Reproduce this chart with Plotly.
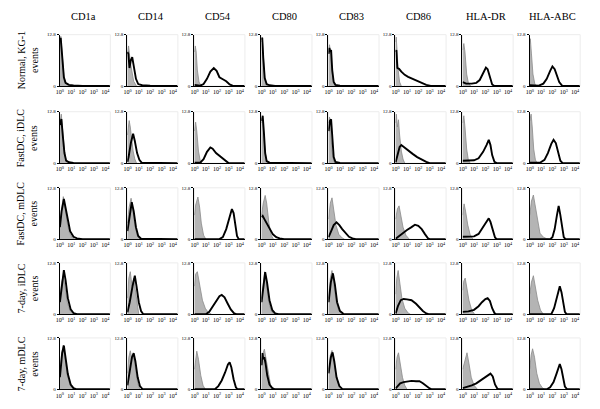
import plotly.graph_objects as go

# ---------------- data ----------------
markers = ["CD1a", "CD14", "CD54", "CD80", "CD83", "CD86", "HLA-DR", "HLA-ABC"]
conditions = ["Normal, KG-1", "FastDC, iDLC", "FastDC, mDLC", "7-day, iDLC", "7-day, mDLC"]
x_tick_vals = [0, 1, 2, 3, 4]
x_tick_text = ["10<sup>0</sup>", "10<sup>1</sup>", "10<sup>2</sup>", "10<sup>3</sup>", "10<sup>4</sup>"]
y_tick_vals = [0, 12.8]
y_tick_text = ["0", "12.8"]

# each curve: list of (log10 fluorescence, events) points; one curve per marker
grey_normal = [
    [(0,10.5),(0.08,12.4),(0.2,8),(0.35,2.5),(0.5,0.6),(0.7,0.1),(1.0,0)],
    [(0,8),(0.1,10),(0.25,6),(0.4,3.5),(0.55,1.2),(0.8,0)],
    [(0,8.5),(0.07,10),(0.15,8.5),(0.25,4),(0.4,1),(0.6,0)],
    [(0,11),(0.06,12.2),(0.15,8),(0.28,2),(0.4,0.3),(0.6,0)],
    [(0,9),(0.08,10.3),(0.18,8),(0.3,3.5),(0.45,0.8),(0.65,0)],
    [(0,11),(0.05,12.2),(0.12,9),(0.22,4),(0.35,1),(0.5,0)],
    [(0,9),(0.1,10.6),(0.2,8.5),(0.35,3),(0.5,0.8),(0.7,0)],
    [(0,10.5),(0.05,11.8),(0.15,8),(0.28,3),(0.45,0.5),(0.6,0)],
]
black_normal = [
    [(0,11),(0.07,12.0),(0.2,7.5),(0.35,2.2),(0.5,0.8),(0.8,0.3),(1.2,0.15),(2,0.05),(4.4,0)],
    [(0,8.5),(0.08,8),(0.18,4.5),(0.3,6.5),(0.42,7.2),(0.55,5),(0.75,1.8),(0.95,0.5),(1.3,0.2),(2.0,0.1),(4.4,0)],
    [(0,0.3),(0.5,0.1),(0.8,0.5),(1.1,1.8),(1.4,3.6),(1.7,4.5),(1.95,3.8),(2.2,2.2),(2.5,1.7),(2.8,1.2),(3.1,0.4),(3.4,0.05),(4.4,0)],
    [(0,11.5),(0.06,12.0),(0.15,7),(0.28,2),(0.45,0.5),(0.7,0.2),(1.2,0.05),(4.4,0)],
    [(0,8),(0.07,9.5),(0.15,8.5),(0.22,9),(0.32,4),(0.45,1),(0.6,0.3),(1.0,0.1),(4.4,0)],
    [(0,8.5),(0.06,9),(0.15,4.5),(0.3,4.3),(0.5,3.6),(0.8,2.8),(1.1,2.3),(1.5,1.8),(1.9,1.3),(2.3,0.8),(2.7,0.3),(3.1,0.05),(4.4,0)],
    [(0,1),(0.3,0.6),(0.8,0.6),(1.2,0.8),(1.5,1.5),(1.8,3),(2.05,4.6),(2.2,4.2),(2.4,2),(2.6,0.4),(2.8,0),(4.4,0)],
    [(0,0.2),(0.8,0.1),(1.2,0.6),(1.5,1.8),(1.8,3.8),(2.0,4.9),(2.2,4.2),(2.4,2.5),(2.6,1),(2.85,0.1),(4.4,0)],
]
grey_fast_i = [
    [(0,10),(0.12,12.2),(0.25,8),(0.4,3),(0.55,0.5),(0.7,0)],
    [(0,7),(0.15,10.6),(0.25,9),(0.35,6),(0.5,3),(0.65,1),(0.8,0)],
    [(0,8),(0.1,10.2),(0.2,8),(0.35,3),(0.5,0.7),(0.65,0)],
    [(0,10),(0.08,11.5),(0.18,8),(0.3,3),(0.45,0.5),(0.6,0)],
    [(0,10),(0.08,11.5),(0.18,8),(0.3,3),(0.45,0.5),(0.6,0)],
    [(0,10),(0.06,12.2),(0.15,9),(0.25,10.8),(0.35,7),(0.5,3),(0.65,1),(0.8,0)],
    [(0,10),(0.1,11.8),(0.2,9),(0.35,3.5),(0.5,0.8),(0.65,0)],
    [(0,10.5),(0.12,12.2),(0.22,9),(0.35,3.5),(0.5,0.8),(0.65,0)],
]
black_fast_i = [
    [(0,9.5),(0.13,11),(0.25,7),(0.4,2.5),(0.55,0.6),(0.8,0.2),(1.2,0.05),(4.4,0)],
    [(0,0.3),(0.1,1.5),(0.3,5),(0.5,7.3),(0.65,5.5),(0.85,2.5),(1.05,0.8),(1.25,0.1),(4.4,0)],
    [(0,0.1),(0.5,0.1),(0.8,1),(1.1,2.8),(1.4,3.9),(1.6,3.6),(1.9,2.5),(2.2,1.8),(2.5,1),(2.8,0.3),(3.0,0),(4.4,0)],
    [(0,10.5),(0.1,11.8),(0.2,8),(0.32,2.5),(0.45,0.5),(0.7,0.1),(4.4,0)],
    [(0,8),(0.12,10.5),(0.22,10.9),(0.32,6),(0.45,1.5),(0.6,0.3),(1,0.05),(4.4,0)],
    [(0,0.2),(0.15,2),(0.35,4),(0.5,4.5),(0.8,3.8),(1.1,3.1),(1.5,2.3),(1.9,1.5),(2.3,0.8),(2.7,0.3),(3.0,0),(4.4,0)],
    [(0,0.6),(0.5,0.6),(1.0,0.7),(1.4,1.2),(1.8,2.8),(2.1,4.5),(2.3,5.8),(2.45,4.5),(2.6,2),(2.8,0.3),(3.0,0),(4.4,0)],
    [(0,0.1),(0.9,0.1),(1.3,0.8),(1.6,2.5),(1.9,4.8),(2.1,5.8),(2.3,5),(2.5,2.5),(2.7,0.6),(2.9,0),(4.4,0)],
]
grey_fast_m = [
    [(0,4),(0.15,8),(0.3,10.6),(0.45,8),(0.65,4),(0.85,1.5),(1.1,0.3),(1.3,0)],
    [(0,4),(0.15,8),(0.32,10.2),(0.45,8),(0.65,3.5),(0.85,1),(1.1,0)],
    [(0,6),(0.1,8.5),(0.3,10.5),(0.45,8),(0.6,4),(0.8,1),(1.0,0)],
    [(0,6),(0.15,9),(0.32,10.9),(0.45,9),(0.65,4),(0.85,1),(1.05,0)],
    [(0,5),(0.15,9),(0.3,10.3),(0.45,7.5),(0.65,3.5),(0.9,1.2),(1.2,0.3),(1.4,0)],
    [(0,5),(0.15,7.5),(0.3,8.3),(0.45,6),(0.65,3),(0.9,1),(1.2,0)],
    [(0,6),(0.12,8.8),(0.25,7),(0.45,3.5),(0.65,1.2),(0.9,0)],
    [(0,6),(0.15,9.5),(0.32,11),(0.5,8),(0.7,4),(0.9,1.5),(1.2,0.5),(1.5,0.1),(1.8,0)],
]
black_fast_m = [
    [(0,3),(0.15,7),(0.35,10),(0.5,8),(0.7,4.5),(0.9,2),(1.2,0.6),(1.5,0.2),(2.0,0),(4.4,0)],
    [(0,2),(0.2,6.5),(0.38,9.2),(0.55,7),(0.75,3),(0.95,0.8),(1.2,0.1),(4.4,0)],
    [(0,0),(2.2,0),(2.5,0.5),(2.8,2.5),(3.1,5.5),(3.3,7.5),(3.45,6.5),(3.6,3.5),(3.75,0.8),(3.9,0),(4.4,0)],
    [(0,5.5),(0.1,5.8),(0.25,5),(0.45,4),(0.7,2.5),(1.0,1.2),(1.3,0.5),(1.6,0.2),(2.0,0),(4.4,0)],
    [(0,0.5),(0.2,2),(0.45,3.5),(0.7,4.2),(0.95,3.5),(1.2,2.5),(1.5,1.4),(1.8,0.6),(2.1,0.2),(2.4,0),(4.4,0)],
    [(0,0.1),(0.3,0.8),(0.6,1.5),(1.0,2.3),(1.4,3),(1.7,3.6),(2.0,3.3),(2.3,2.5),(2.6,1.2),(2.85,0.2),(3.0,0),(4.4,0)],
    [(0,0.6),(0.5,0.6),(1.0,0.7),(1.4,1.3),(1.8,3),(2.1,4.5),(2.3,5.2),(2.45,4.3),(2.65,2),(2.85,0.4),(3.0,0),(4.4,0)],
    [(0,0),(1.8,0),(2.0,0.5),(2.2,2.5),(2.4,6),(2.55,8.3),(2.7,6),(2.85,2.5),(3.0,0.5),(3.15,0),(4.4,0)],
]
grey_7d_i = [
    [(0,4),(0.15,8),(0.3,9.6),(0.45,7),(0.65,3),(0.9,0.8),(1.2,0)],
    [(0,4),(0.12,9),(0.25,10.6),(0.4,7),(0.55,9),(0.7,6),(0.85,2),(1.0,0)],
    [(0,7),(0.1,10),(0.25,10.6),(0.45,7),(0.7,3.5),(0.95,1.5),(1.2,0.5),(1.5,0)],
    [(0,4),(0.15,8.5),(0.28,10.6),(0.42,8),(0.6,3.5),(0.85,0.8),(1.1,0)],
    [(0,4),(0.15,9),(0.3,10.9),(0.45,8),(0.65,3.5),(0.9,0.8),(1.2,0)],
    [(0,5),(0.1,9),(0.22,10.9),(0.35,8),(0.55,4),(0.8,1.5),(1.1,0.3),(1.3,0)],
    [(0,6),(0.1,8.3),(0.22,9),(0.35,7),(0.55,3.5),(0.8,1),(1.05,0)],
    [(0,5),(0.15,8),(0.32,9.6),(0.5,7),(0.7,3.5),(0.95,1),(1.2,0)],
]
black_7d_i = [
    [(0,3),(0.2,8),(0.35,11),(0.5,8.5),(0.7,4),(0.95,1.2),(1.2,0.3),(1.5,0),(4.4,0)],
    [(0,0.5),(0.2,3),(0.45,7),(0.65,9.6),(0.8,7),(1.0,3),(1.2,0.8),(1.4,0),(4.4,0)],
    [(0,0),(1.0,0),(1.3,0.6),(1.6,1.8),(1.9,3.2),(2.2,4.5),(2.4,4.8),(2.65,4.2),(2.9,2.8),(3.2,1.2),(3.5,0.2),(3.7,0),(4.4,0)],
    [(0,3),(0.2,8.5),(0.32,10.5),(0.48,8),(0.7,3.5),(0.95,1),(1.2,0.2),(1.5,0),(4.4,0)],
    [(0,3),(0.2,8),(0.38,10.2),(0.55,7.5),(0.75,3),(1.0,0.8),(1.3,0.1),(4.4,0)],
    [(0,0.2),(0.2,2),(0.45,3.5),(0.7,3.8),(1.0,3.7),(1.4,3.5),(1.8,2.6),(2.1,1.7),(2.4,0.8),(2.7,0.2),(2.9,0),(4.4,0)],
    [(0,0.6),(0.5,0.7),(1.0,1.1),(1.4,2),(1.7,3),(2.0,3.8),(2.2,4),(2.4,3.3),(2.6,1.5),(2.8,0.3),(2.95,0),(4.4,0)],
    [(0,0),(1.9,0),(2.15,1.5),(2.35,4),(2.55,6.5),(2.65,7),(2.8,5.5),(2.95,2.5),(3.1,0.6),(3.25,0),(4.4,0)],
]
grey_7d_m = [
    [(0,4),(0.15,9),(0.3,11),(0.45,8),(0.65,3.5),(0.9,1),(1.2,0)],
    [(0,4),(0.12,8),(0.25,9.6),(0.4,7.5),(0.55,8.3),(0.7,5),(0.9,1.5),(1.1,0)],
    [(0,5),(0.1,8),(0.2,9.5),(0.35,7.5),(0.55,3.5),(0.75,1),(0.95,0)],
    [(0,6),(0.12,9),(0.25,10),(0.4,7.5),(0.6,3.5),(0.8,1),(1.0,0)],
    [(0,5),(0.15,8.5),(0.3,9.7),(0.45,7.5),(0.65,3.5),(0.9,1),(1.1,0)],
    [(0,5),(0.12,8),(0.25,9.1),(0.4,6.5),(0.6,3),(0.8,1),(1.0,0)],
    [(0,5),(0.2,7.5),(0.38,9.1),(0.55,6.5),(0.75,3),(1.0,1),(1.3,0)],
    [(0,5),(0.12,8.5),(0.25,10.1),(0.42,8),(0.62,4),(0.85,1.5),(1.1,0.4),(1.3,0)],
]
black_7d_m = [
    [(0,3),(0.2,9),(0.35,10.9),(0.5,8),(0.7,3.8),(0.95,1.2),(1.2,0.3),(1.5,0),(4.4,0)],
    [(0,1),(0.2,5),(0.4,8),(0.55,9),(0.7,7),(0.9,3),(1.1,0.8),(1.35,0),(4.4,0)],
    [(0,0),(1.8,0),(2.1,0.8),(2.4,2.2),(2.7,4.2),(2.95,6.2),(3.1,6.7),(3.25,5.5),(3.45,2.5),(3.65,0.5),(3.8,0),(4.4,0)],
    [(0,6),(0.08,9),(0.15,7.5),(0.25,8),(0.35,6.5),(0.5,3.5),(0.7,1.2),(0.95,0.3),(1.2,0),(4.4,0)],
    [(0,4),(0.2,8),(0.35,9.2),(0.5,7),(0.7,3),(0.95,0.8),(1.2,0.1),(4.4,0)],
    [(0,0.2),(0.2,1),(0.4,1.5),(0.7,1.8),(1.0,2),(1.4,2.1),(1.8,2),(2.1,2),(2.4,1.5),(2.7,0.8),(3.0,0.2),(3.2,0),(4.4,0)],
    [(0,0.3),(0.4,0.6),(0.8,1),(1.2,1.5),(1.6,2.3),(1.9,3),(2.2,3.5),(2.45,3.9),(2.65,3.2),(2.85,1.2),(3.05,0.2),(3.2,0),(4.4,0)],
    [(0,0),(1.5,0),(1.8,0.5),(2.1,1.8),(2.35,3.8),(2.55,5.5),(2.65,6.3),(2.8,5),(2.95,2.5),(3.1,0.7),(3.3,0),(4.4,0)],
]

grey_rows = [grey_normal, grey_fast_i, grey_fast_m, grey_7d_i, grey_7d_m]
black_rows = [black_normal, black_fast_i, black_fast_m, black_7d_i, black_7d_m]

# ---------------- layout ----------------
W, H = 600, 409
col_left = [48, 116, 183.5, 251, 318.5, 386, 453.5, 521]
col_w = 51
row_top = [25, 103, 180, 256, 332]
row_h = 52
SERIF = "Liberation Serif, Times New Roman, serif"

fig = go.Figure()
layout = dict(
    width=W, height=H, margin=dict(l=0, r=0, t=0, b=0),
    paper_bgcolor="white", plot_bgcolor="white", showlegend=False,
    font=dict(family=SERIF, color="black"),
)
shapes, annotations = [], []

for r in range(5):
    for c in range(8):
        idx = r * 8 + c + 1
        xa = "x" if idx == 1 else f"x{idx}"
        ya = "y" if idx == 1 else f"y{idx}"
        g = grey_rows[r][c]
        b = black_rows[r][c]
        fig.add_trace(go.Scatter(
            x=[p[0] for p in g], y=[p[1] for p in g], mode="lines",
            fill="tozeroy", fillcolor="#b4b4b4",
            line=dict(color="#8a8a8a", width=0.8),
            xaxis=xa, yaxis=ya, hoverinfo="skip"))
        fig.add_trace(go.Scatter(
            x=[p[0] for p in b], y=[p[1] for p in b], mode="lines",
            line=dict(color="black", width=1.9),
            xaxis=xa, yaxis=ya, hoverinfo="skip"))
        x0 = col_left[c] / W
        x1 = (col_left[c] + col_w) / W
        y1 = 1 - row_top[r] / H
        y0 = 1 - (row_top[r] + row_h) / H
        key_x = "xaxis" if idx == 1 else f"xaxis{idx}"
        key_y = "yaxis" if idx == 1 else f"yaxis{idx}"
        layout[key_x] = dict(
            domain=[x0, x1], anchor=ya, range=[-0.02, 4.45],
            tickvals=x_tick_vals, ticktext=x_tick_text,
            tickfont=dict(size=6, family=SERIF, color="black"),
            showline=True, linecolor="black", linewidth=1,
            ticks="", showgrid=False, zeroline=False, fixedrange=True)
        layout[key_y] = dict(
            domain=[y0, y1], anchor=xa, range=[0, 12.8],
            tickvals=y_tick_vals, ticktext=y_tick_text,
            tickfont=dict(size=5, family=SERIF, color="black"),
            showline=True, linecolor="black", linewidth=1,
            ticks="outside", ticklen=2, tickcolor="black", tickwidth=0.8,
            showgrid=False, zeroline=False, fixedrange=True)
        shapes.append(dict(
            type="rect", xref=f"{xa} domain", yref=f"{ya} domain",
            x0=0, x1=1, y0=0, y1=1, line=dict(color="#ececec", width=1),
            layer="below"))

for c, name in enumerate(markers):
    annotations.append(dict(
        text=name, xref="paper", yref="paper",
        x=(col_left[c] + col_w / 2 - 2) / W, y=1 - 7 / H,
        showarrow=False, xanchor="center", yanchor="middle",
        font=dict(size=10.5, family=SERIF, color="black")))

for r, name in enumerate(conditions):
    annotations.append(dict(
        text=f"{name}<br>events", xref="paper", yref="paper",
        x=16 / W, y=1 - (row_top[r] + row_h / 2) / H,
        showarrow=False, xanchor="center", yanchor="middle", textangle=-90,
        font=dict(size=10, family=SERIF, color="black")))

layout["shapes"] = shapes
layout["annotations"] = annotations
fig.update_layout(**layout)
fig.write_html("out.html")
